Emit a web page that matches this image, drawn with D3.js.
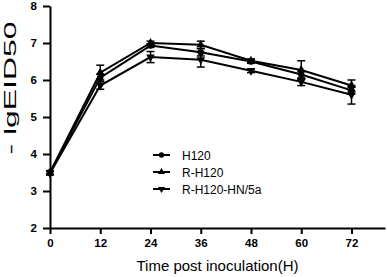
<!DOCTYPE html>
<html>
<head>
<meta charset="utf-8">
<script src="https://cdn.jsdelivr.net/npm/d3@7"></script>
<style>
  body { margin: 0; background: #fff; }
  svg { display: block; font-family: Arial, "Liberation Sans", sans-serif; }
</style>
</head>
<body>
<svg id="chart" width="387" height="277"></svg>
<script>
// data
const hours = [0, 12, 24, 36, 48, 60, 72];
const seriesNames = ["H120", "R-H120", "R-H120-HN/5a"];
const h120 = [3.5, 6.06, 6.93, 6.75, 6.5, 6.15, 5.72];
const rH120 = [3.5, 6.2, 7.0, 6.95, 6.52, 6.27, 5.85];
const rH120HN = [3.48, 5.85, 6.62, 6.55, 6.25, 5.95, 5.6];
const h120Err = [0.05, 0.1, 0.05, 0.1, 0.05, 0.1, 0.1];
const rH120Err = [0.05, 0.2, 0.05, 0.1, 0.05, 0.25, 0.15];
const rH120HNErr = [0.05, 0.1, 0.15, 0.2, 0.05, 0.1, 0.25];
const yTicks = [2, 3, 4, 5, 6, 7, 8];

const series = [
  { name: seriesNames[0], values: h120, err: h120Err, symbol: d3.symbolCircle, rot: 0 },
  { name: seriesNames[1], values: rH120, err: rH120Err, symbol: d3.symbolTriangle, rot: 0 },
  { name: seriesNames[2], values: rH120HN, err: rH120HNErr, symbol: d3.symbolTriangle, rot: 180 }
];

const margin = { left: 50, top: 6, right: 2, bottom: 49 };
const width = 387 - margin.left - margin.right;
const height = 277 - margin.top - margin.bottom;

const svg = d3.select("#chart")
  .append("g")
  .attr("transform", `translate(${margin.left}, ${margin.top})`);

const x = d3.scaleLinear().domain([0, 80]).range([0, width]);
const y = d3.scaleLinear().domain([2, 8]).range([height, 0]);

// axes
const xAxis = svg.append("g")
  .attr("transform", "translate(0," + height + ")")
  .call(d3.axisBottom(x).tickValues(hours).tickFormat(d3.format("d"))
    .tickSize(6).tickPadding(5).tickSizeOuter(0));
const yAxis = svg.append("g")
  .call(d3.axisLeft(y).tickValues(yTicks).tickFormat(d3.format("d"))
    .tickSize(7).tickPadding(6).tickSizeOuter(0));

[xAxis, yAxis].forEach(a => {
  a.select(".domain").attr("stroke", "#000").attr("stroke-width", 2);
  a.selectAll(".tick line").attr("stroke", "#000").attr("stroke-width", 2);
  a.selectAll(".tick text")
    .attr("fill", "#000")
    .style("font-size", "11.5px")
    .style("font-weight", "bold");
});

// lines
const line = d3.line()
  .x((d, i) => x(hours[i]))
  .y(d => y(d));

series.forEach(s => {
  svg.append("path")
    .datum(s.values)
    .attr("d", line)
    .attr("fill", "none")
    .attr("stroke", "#000")
    .attr("stroke-width", 2);
});

// error bars and markers
series.forEach(s => {
  const g = svg.append("g");
  s.values.forEach((v, i) => {
    const cx = x(hours[i]);
    const e = s.err[i];
    g.append("line")
      .attr("x1", cx).attr("x2", cx)
      .attr("y1", y(v + e)).attr("y2", y(v - e))
      .attr("stroke", "#000").attr("stroke-width", 1.5);
    [v + e, v - e].forEach(c => {
      g.append("line")
        .attr("x1", cx - 4).attr("x2", cx + 4)
        .attr("y1", y(c)).attr("y2", y(c))
        .attr("stroke", "#000").attr("stroke-width", 1.5);
    });
    g.append("path")
      .attr("d", d3.symbol().type(s.symbol).size(32)())
      .attr("transform", `translate(${cx},${y(v)}) rotate(${s.rot})`)
      .attr("fill", "#000");
  });
});

// legend
const legend = svg.append("g").attr("transform", "translate(103, 149)");
series.forEach((s, i) => {
  const row = legend.append("g").attr("transform", `translate(0, ${i * 17})`);
  row.append("line")
    .attr("x1", 0).attr("x2", 17)
    .attr("stroke", "#000").attr("stroke-width", 2);
  row.append("path")
    .attr("d", d3.symbol().type(s.symbol).size(22)())
    .attr("transform", `translate(8.5,0) rotate(${s.rot})`)
    .attr("fill", "#000");
  row.append("text")
    .attr("x", 29).attr("y", 4.5)
    .style("font-size", "12px")
    .text(s.name);
});

// axis titles
svg.append("text")
  .attr("x", width / 2)
  .attr("y", height + 43)
  .attr("text-anchor", "middle")
  .style("font-size", "15px")
  .text("Time post inoculation(H)");

svg.append("text")
  .attr("transform", `translate(${16 - margin.left}, ${88 - margin.top}) rotate(-90)`)
  .attr("text-anchor", "middle")
  .attr("textLength", 133)
  .attr("lengthAdjust", "spacingAndGlyphs")
  .style("font-size", "17px")
  .text("- lgEID50");
</script>
</body>
</html>
